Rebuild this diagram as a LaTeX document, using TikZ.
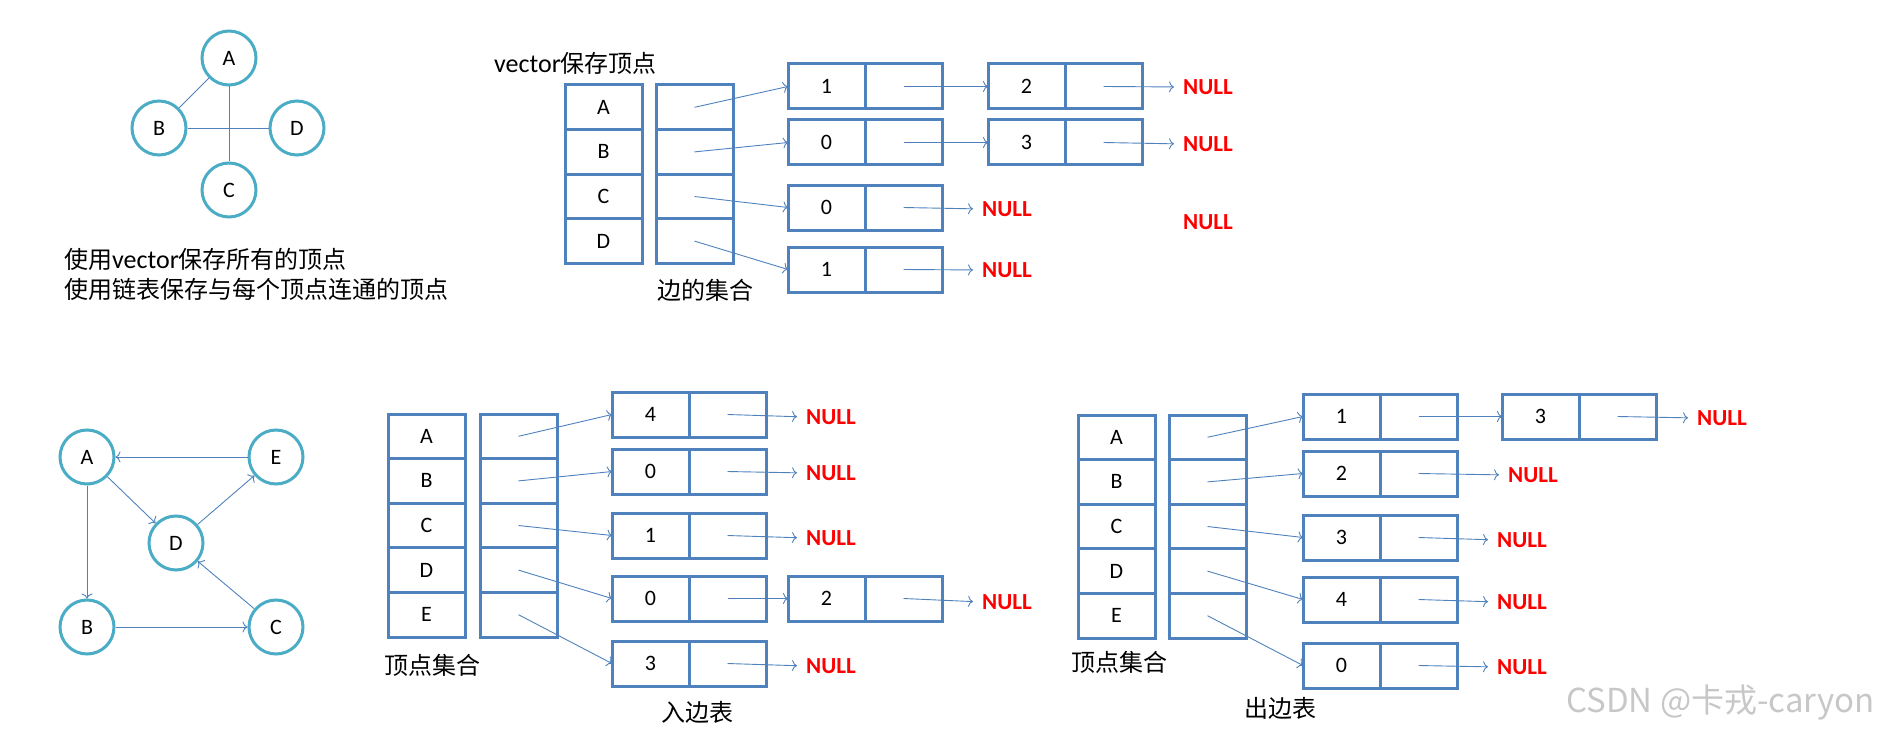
\documentclass[tikz,border=0pt]{standalone}
\usepackage{fontspec}
\setmainfont{Carlito}
\newfontfamily\cjk{Noto Sans CJK SC}
\usetikzlibrary{arrows.meta}
\definecolor{bl}{HTML}{4F81BD}
\definecolor{tl}{HTML}{4BACC6}
\tikzset{
 cellbox/.style={draw=bl,line width=3pt,inner sep=0pt,outer sep=0pt,anchor=north west,font=\fontsize{22}{24}\selectfont},
 vtx/.style={circle,draw=tl,line width=3pt,minimum size=54pt,inner sep=0pt,fill=white,font=\fontsize{22}{24}\selectfont},
 ptr/.style={draw=bl,line width=0.9pt,-{To[length=5pt,width=11pt]}},
 edg/.style={draw=bl,line width=0.9pt},
 nul/.style={text=red,font=\bfseries\fontsize{23}{24}\selectfont,anchor=west,inner sep=0pt},
 lbl/.style={font=\cjk\fontsize{24}{30}\selectfont,inner sep=0pt},
 lat/.style={font=\fontsize{27}{30}\selectfont}
}
\newcommand\cellnode[6]{\node[cellbox,minimum width=#4pt,minimum height=#5pt] (#1) at (#2,#3) {#6};}
\newcommand\lnode[4]{\cellnode{#1a}{#2}{#3}{77}{45}{#4}\cellnode{#1b}{#2+77}{#3}{77}{45}{}}
\newcommand\vcol[5]{% prefix, x vert, x edge, ytop, list
 \foreach \t [count=\i from 0] in {#5}{
  \cellnode{#1v\i}{#2}{#4+\i*44.6}{77}{44.6}{\t}
  \cellnode{#1e\i}{#3}{#4+\i*44.6}{77}{44.6}{}}}
\begin{document}
\begin{tikzpicture}[x=1pt,y=-1pt]
\useasboundingbox (0,0) rectangle (1901,733);
% ---- top graph
\node[vtx] (tA) at (229,58) {A};
\node[vtx] (tB) at (159,128) {B};
\node[vtx] (tD) at (297,128) {D};
\node[vtx] (tC) at (229,190) {C};
\draw[edg] (tB) -- (tA);
\draw[edg] (tA) -- (tC);
\draw[edg] (tB) -- (tD);
\node[lbl,anchor=north west,align=left] (desc) at (64,248) {使用{\fontspec{Carlito}\fontsize{26}{30}\selectfont vector}保存所有的顶点\\使用链表保存与每个顶点连通的顶点};
% ---- top lists
\node[lbl,anchor=west] (vlab) at (494,63) {{\fontspec{Carlito}\fontsize{26}{30}\selectfont vector}保存顶点};
\vcol{t}{565}{656}{85}{A,B,C,D}
\node[lbl] (elab) at (705,290) {边的集合};
\lnode{t1}{788}{64}{1}\lnode{t1n}{988}{64}{2}
\lnode{t2}{788}{120}{0}\lnode{t2n}{988}{120}{3}
\lnode{t3}{788}{185}{0}
\lnode{t4}{788}{247}{1}
\node[nul] (n1) at (1183,87) {NULL};
\node[nul] (n2) at (1183,144) {NULL};
\node[nul] (n3) at (982,209) {NULL};
\node[nul] (n4) at (982,270) {NULL};
\node[nul] (n5) at (1183,222) {NULL};
\draw[ptr] (te0.center) -- (t1a.west);
\draw[ptr] (te1.center) -- (t2a.west);
\draw[ptr] (te2.center) -- (t3a.west);
\draw[ptr] (te3.center) -- (t4a.west);
\draw[ptr] (t1b.center) -- (t1na.west);
\draw[ptr] (t2b.center) -- (t2na.west);
\draw[ptr,shorten >=9pt] (t1nb.center) -- (n1.west);
\draw[ptr,shorten >=9pt] (t2nb.center) -- (n2.west);
\draw[ptr,shorten >=9pt] (t3b.center) -- (n3.west);
\draw[ptr,shorten >=9pt] (t4b.center) -- (n4.west);
% ---- bottom graph
\node[vtx] (A) at (87,457) {A};
\node[vtx] (E) at (276,457) {E};
\node[vtx] (D) at (176,543) {D};
\node[vtx] (B) at (87,627) {B};
\node[vtx] (C) at (276,627) {C};
\draw[ptr] (E) -- (A);
\draw[ptr] (A) -- (D);
\draw[ptr] (D) -- (E);
\draw[ptr] (A) -- (B);
\draw[ptr] (B) -- (C);
\draw[ptr] (C) -- (D);
% ---- bottom left lists
\vcol{l}{388}{480}{414}{A,B,C,D,E}
\node[lbl] (llab) at (432,665) {顶点集合};
\node[lbl] (ilab) at (697,712) {入边表};
\lnode{l1}{612}{392}{4}
\lnode{l2}{612}{449}{0}
\lnode{l3}{612}{513}{1}
\lnode{l4}{612}{576}{0}\lnode{l4n}{788}{576}{2}
\lnode{l5}{612}{641}{3}
\node[nul] (m1) at (806,417) {NULL};
\node[nul] (m2) at (806,473) {NULL};
\node[nul] (m3) at (806,538) {NULL};
\node[nul] (m4) at (982,602) {NULL};
\node[nul] (m5) at (806,666) {NULL};
\foreach \i/\j in {0/1,1/2,2/3,3/4,4/5}{\draw[ptr] (le\i.center) -- (l\j a.west);}
\draw[ptr] (l4b.center) -- (l4na.west);
\foreach \s/\t in {l1/m1,l2/m2,l3/m3,l4n/m4,l5/m5}{\draw[ptr,shorten >=9pt] (\s b.center) -- (\t.west);}
% ---- bottom right lists
\vcol{r}{1078}{1169}{415}{A,B,C,D,E}
\node[lbl] (rlab) at (1119,662) {顶点集合};
\node[lbl] (olab) at (1280,708) {出边表};
\lnode{r1}{1303}{394}{1}\lnode{r1n}{1502}{394}{3}
\lnode{r2}{1303}{451}{2}
\lnode{r3}{1303}{515}{3}
\lnode{r4}{1303}{577}{4}
\lnode{r5}{1303}{643}{0}
\node[nul] (k1) at (1697,418) {NULL};
\node[nul] (k2) at (1508,475) {NULL};
\node[nul] (k3) at (1497,540) {NULL};
\node[nul] (k4) at (1497,602) {NULL};
\node[nul] (k5) at (1497,667) {NULL};
\foreach \i/\j in {0/1,1/2,2/3,3/4,4/5}{\draw[ptr] (re\i.center) -- (r\j a.west);}
\draw[ptr] (r1b.center) -- (r1na.west);
\foreach \s/\t in {r1n/k1,r2/k2,r3/k3,r4/k4,r5/k5}{\draw[ptr,shorten >=9pt] (\s b.center) -- (\t.west);}
% watermark
\node[anchor=west,text=black!22,font=\cjk\fontsize{33}{36}\selectfont,inner sep=0pt] (wm) at (1566,702) {CSDN @卡戎-caryon};
\end{tikzpicture}
\end{document}
